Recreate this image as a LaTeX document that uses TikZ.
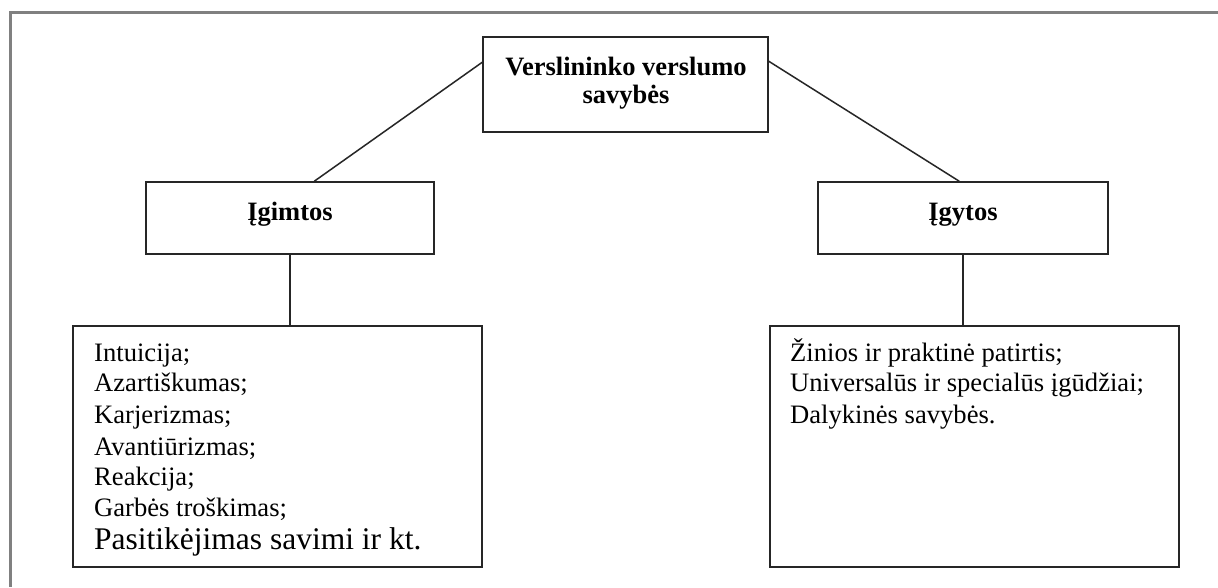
\documentclass[tikz,border=0pt]{standalone}
\usepackage{fontspec}
\setmainfont{Liberation Serif}
\usetikzlibrary{calc}
\begin{document}
\begin{tikzpicture}[x=1pt,y=-1pt,
  box/.style={draw=black!85, line width=1.5pt, rectangle, inner sep=0pt, fill=white},
  conn/.style={draw=black!85, line width=1.5pt},
  title/.style={anchor=base, inner sep=0pt, font=\bfseries\fontsize{26.5}{28}\selectfont},
  item/.style={anchor=base west, inner sep=0pt, font=\fontsize{26.6}{31}\selectfont},
  bigitem/.style={anchor=base west, inner sep=0pt, font=\fontsize{31.5}{34}\selectfont},
]
\useasboundingbox (0,0) rectangle (1218,587);
\fill[white] (0,0) rectangle (1218,587);
\draw[line width=3pt, black!50] (1218,12.5) -- (10,12.5) -- (10,587);

% boxes
\node[box, minimum width=285pt, minimum height=95pt] (top) at (625.5,84.5) {};
\node[box, minimum width=288pt, minimum height=72pt] (ml) at (290,218) {};
\node[box, minimum width=290pt, minimum height=72pt] (mr) at (963,218) {};
\node[box, minimum width=409pt, minimum height=241pt] (lb) at (277.5,446.5) {};
\node[box, minimum width=409pt, minimum height=241pt] (rb) at (974.5,446.5) {};

% connectors
\draw[conn] ($(top.north west)+(0,26)$) -- ($(ml.north west)+(169,0)$);
\draw[conn] ($(top.north east)+(0,25)$) -- ($(mr.north west)+(142,0)$);
\draw[conn] (ml.south) -- (ml.south |- lb.north);
\draw[conn] (mr.south) -- (mr.south |- rb.north);

% titles
\node[title] (t1) at (626,75) {Verslininko verslumo};
\node[title] (t2) at (626,103) {savybės};
\node[title] (mlt) at (290,220) {Įgimtos};
\node[title] (mrt) at (963,220) {Įgytos};

% left list
\node[item] (l1) at (94,361.7) {Intuicija;};
\node[item] (l2) at (94,391.7) {Azartiškumas;};
\node[item] (l3) at (94,423.3) {Karjerizmas;};
\node[item] (l4) at (94,455) {Avantiūrizmas;};
\node[item] (l5) at (94,485) {Reakcija;};
\node[item] (l6) at (94,516.7) {Garbės troškimas;};
\node[bigitem] (l7) at (94,549.3) {Pasitikėjimas savimi ir kt.};

% right list
\node[item] (r1) at (790,361.7) {Žinios ir praktinė patirtis;};
\node[item] (r2) at (790,391.7) {Universalūs ir specialūs įgūdžiai;};
\node[item] (r3) at (790,423.3) {Dalykinės savybės.};
\end{tikzpicture}
\end{document}
